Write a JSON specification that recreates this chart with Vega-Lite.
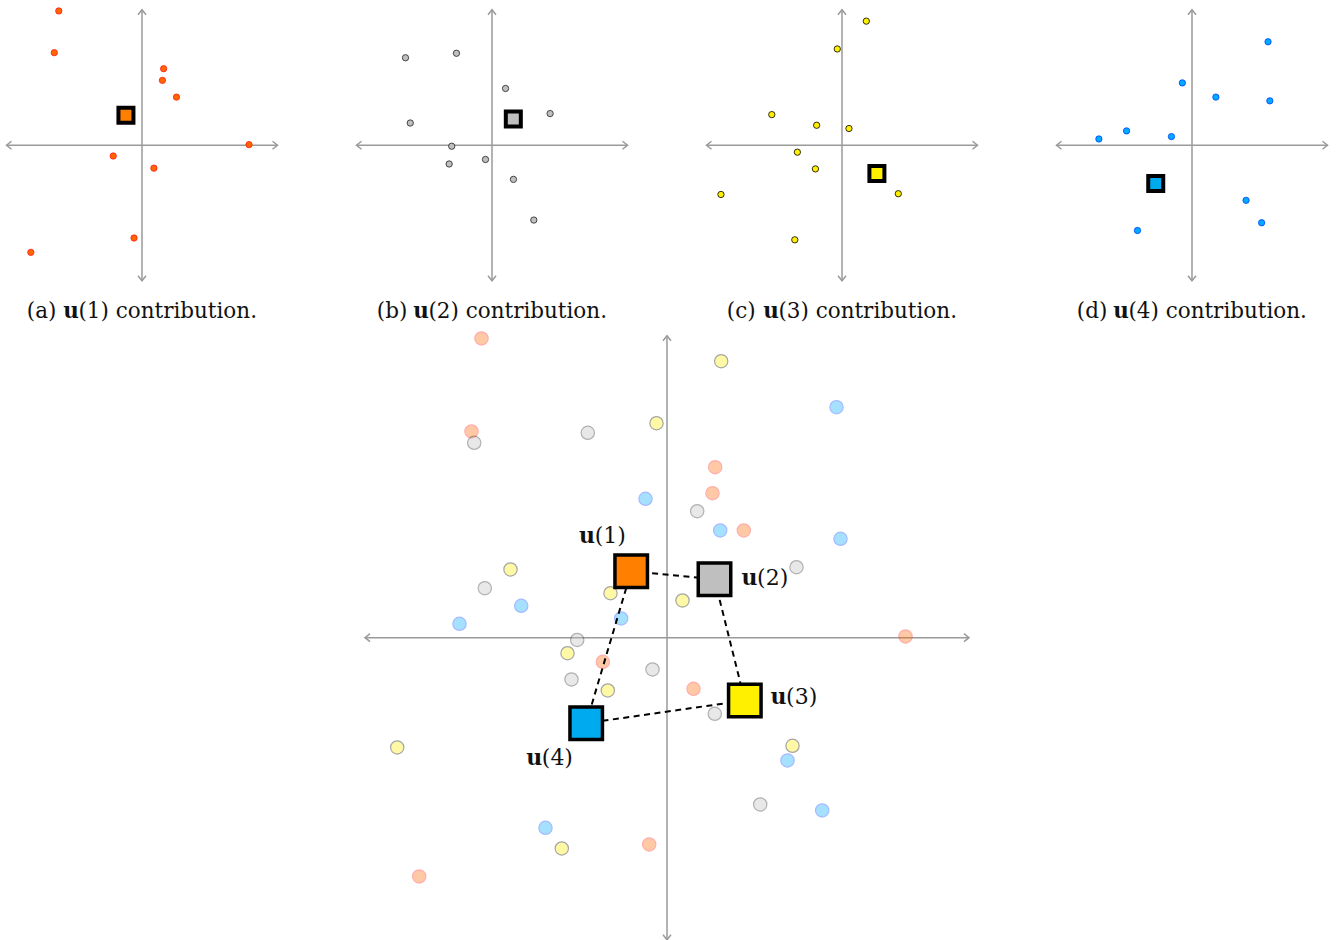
{
"$schema":"https://vega.github.io/schema/vega-lite/v6.json",
"autosize":{"type":"pad"},
"padding":{"left":3.5,"top":5.7,"right":0,"bottom":0},
"background":"white",
"config":{"view":{"stroke":null}},
"datasets":{
"axes":[{"x":-302,"x2":302,"y":0,"y2":0},{"x":0,"x2":0,"y":-302,"y2":302}],
"arrows":[{"x":302,"y":0,"d":"r"},{"x":-302,"y":0,"d":"l"},{"x":0,"y":302,"d":"u"},{"x":0,"y":-302,"d":"d"}],
"pts":[
{"g":"1","x":-185.5,"y":299.2},{"g":"1","x":-195.5,"y":206.2},{"g":"1","x":48.2,"y":170.5},{"g":"1","x":45.5,"y":144.5},{"g":"1","x":76.8,"y":107.2},{"g":"1","x":238.5,"y":1.2},{"g":"1","x":-64.2,"y":-24.1},{"g":"1","x":26.5,"y":-51.1},{"g":"1","x":-17.8,"y":-206.8},{"g":"1","x":-247.8,"y":-238.8},
{"g":"2","x":-192.8,"y":194.9},{"g":"2","x":-79.2,"y":204.9},{"g":"2","x":30.2,"y":126.5},{"g":"2","x":-182.2,"y":49.5},{"g":"2","x":129.5,"y":70.5},{"g":"2","x":-89.8,"y":-2.3},{"g":"2","x":-14.5,"y":-31.8},{"g":"2","x":-95.5,"y":-41.8},{"g":"2","x":47.8,"y":-76.1},{"g":"2","x":93.2,"y":-166.8},
{"g":"3","x":-10.5,"y":214.5},{"g":"3","x":54.2,"y":276.5},{"g":"3","x":-156.5,"y":68.2},{"g":"3","x":-56.5,"y":44.5},{"g":"3","x":15.5,"y":37.2},{"g":"3","x":-99.5,"y":-15.5},{"g":"3","x":-59.2,"y":-52.8},{"g":"3","x":-269.8,"y":-109.8},{"g":"3","x":-105.2,"y":-210.8},{"g":"3","x":125.5,"y":-108.1},
{"g":"4","x":-21.5,"y":138.9},{"g":"4","x":169.5,"y":230.5},{"g":"4","x":53.2,"y":107.2},{"g":"4","x":173.5,"y":98.9},{"g":"4","x":-145.8,"y":31.9},{"g":"4","x":-207.5,"y":13.9},{"g":"4","x":-45.8,"y":19.2},{"g":"4","x":-121.5,"y":-190.1},{"g":"4","x":120.5,"y":-122.8},{"g":"4","x":155.2,"y":-172.8}
],
"sq":[{"g":"1","x":-35.8,"y":66.5,"o":1},{"g":"2","x":47.5,"y":58.5,"o":2},{"g":"3","x":77.8,"y":-62.8,"o":3},{"g":"4","x":-80.8,"y":-85.5,"o":4}],
"cap":[
{"g":"1","part":"p","t":"(a)","x":-256.7,"y":-385.5},{"g":"1","part":"u","t":"u","x":-175.6,"y":-385.5},{"g":"1","part":"r","t":"(1) contribution.","x":-141.7,"y":-385.5},
{"g":"2","part":"p","t":"(b)","x":-256.7,"y":-385.5},{"g":"2","part":"u","t":"u","x":-175.6,"y":-385.5},{"g":"2","part":"r","t":"(2) contribution.","x":-141.7,"y":-385.5},
{"g":"3","part":"p","t":"(c)","x":-256.7,"y":-385.5},{"g":"3","part":"u","t":"u","x":-175.6,"y":-385.5},{"g":"3","part":"r","t":"(3) contribution.","x":-141.7,"y":-385.5},
{"g":"4","part":"p","t":"(d)","x":-256.7,"y":-385.5},{"g":"4","part":"u","t":"u","x":-175.6,"y":-385.5},{"g":"4","part":"r","t":"(4) contribution.","x":-141.7,"y":-385.5}
],
"lab":[
{"part":"u","t":"u","x":-87.9,"y":94.2},{"part":"r","t":"(1)","x":-72.3,"y":94.2},
{"part":"u","t":"u","x":74.5,"y":52.2},{"part":"r","t":"(2)","x":90.1,"y":52.2},
{"part":"u","t":"u","x":103.5,"y":-66.1},{"part":"r","t":"(3)","x":119.1,"y":-66.1},
{"part":"u","t":"u","x":-140.8,"y":-127.8},{"part":"r","t":"(4)","x":-125.2,"y":-127.8}
]
},
"spacing":-7,
"center":true,
"vconcat":[
{"hconcat":[
{"width":271,"height":326,
"layer":[
{"data":{"name":"axes"},"mark":{"type":"rule","color":"#9a9a9a","strokeWidth":1.5},"encoding":{"x":{"field":"x","type":"quantitative","scale":{"domain":[-302,302],"nice":false,"zero":false},"axis":null},"x2":{"field":"x2"},"y":{"field":"y","type":"quantitative","scale":{"domain":[-424.5,302],"nice":false,"zero":false},"axis":null},"y2":{"field":"y2"}}},
{"data":{"name":"arrows"},"mark":{"type":"point","filled":false,"color":"#9a9a9a","strokeWidth":1.5,"size":100,"opacity":1},"encoding":{"x":{"field":"x","type":"quantitative"},"y":{"field":"y","type":"quantitative"},"shape":{"field":"d","type":"nominal","scale":{"domain":["r","l","u","d"],"range":["M-1,-0.8L0,0L-1,0.8","M1,-0.8L0,0L1,0.8","M-0.8,1L0,0L0.8,1","M-0.8,-1L0,0L0.8,-1"]},"legend":null}}},
{"data":{"name":"pts"},"transform":[{"filter":"datum.g == '1'"}],"mark":{"type":"point","shape":"circle","filled":true,"size":40,"strokeWidth":0.8,"opacity":1},"encoding":{"x":{"field":"x","type":"quantitative"},"y":{"field":"y","type":"quantitative"},"fill":{"field":"g","type":"nominal","scale":{"domain":["1","2","3","4"],"range":["#FF6600","#BFBFBF","#FFEE00","#00AAFF"]},"legend":null},"stroke":{"field":"g","type":"nominal","scale":{"domain":["1","2","3","4"],"range":["#FF1A1A","#222222","#000000","#0040FF"]},"legend":null}}},
{"data":{"name":"sq"},"transform":[{"filter":"datum.g == '1'"}],"mark":{"type":"square","size":225,"stroke":"#000000","strokeWidth":4,"opacity":1},"encoding":{"x":{"field":"x","type":"quantitative"},"y":{"field":"y","type":"quantitative"},"fill":{"field":"g","type":"nominal","scale":{"domain":["1","2","3","4"],"range":["#FF8000","#BFBFBF","#FFF000","#00AAEE"]},"legend":null}}},
{"data":{"name":"cap"},"transform":[{"filter":"datum.g == '1' && datum.part != 'u'"}],"mark":{"type":"text","align":"left","baseline":"alphabetic","font":"DejaVu Serif","fontSize":21.5,"color":"#111111"},"encoding":{"x":{"field":"x","type":"quantitative"},"y":{"field":"y","type":"quantitative"},"text":{"field":"t"}}},
{"data":{"name":"cap"},"transform":[{"filter":"datum.g == '1' && datum.part == 'u'"}],"mark":{"type":"text","align":"left","baseline":"alphabetic","font":"DejaVu Serif","fontSize":21.5,"fontWeight":"bold","color":"#111111"},"encoding":{"x":{"field":"x","type":"quantitative"},"y":{"field":"y","type":"quantitative"},"text":{"field":"t"}}}
],
"resolve":{"scale":{"fill":"independent","stroke":"independent"}}},
{"width":271,"height":326,
"layer":[
{"data":{"name":"axes"},"mark":{"type":"rule","color":"#9a9a9a","strokeWidth":1.5},"encoding":{"x":{"field":"x","type":"quantitative","scale":{"domain":[-302,302],"nice":false,"zero":false},"axis":null},"x2":{"field":"x2"},"y":{"field":"y","type":"quantitative","scale":{"domain":[-424.5,302],"nice":false,"zero":false},"axis":null},"y2":{"field":"y2"}}},
{"data":{"name":"arrows"},"mark":{"type":"point","filled":false,"color":"#9a9a9a","strokeWidth":1.5,"size":100,"opacity":1},"encoding":{"x":{"field":"x","type":"quantitative"},"y":{"field":"y","type":"quantitative"},"shape":{"field":"d","type":"nominal","scale":{"domain":["r","l","u","d"],"range":["M-1,-0.8L0,0L-1,0.8","M1,-0.8L0,0L1,0.8","M-0.8,1L0,0L0.8,1","M-0.8,-1L0,0L0.8,-1"]},"legend":null}}},
{"data":{"name":"pts"},"transform":[{"filter":"datum.g == '2'"}],"mark":{"type":"point","shape":"circle","filled":true,"size":40,"strokeWidth":0.8,"opacity":1},"encoding":{"x":{"field":"x","type":"quantitative"},"y":{"field":"y","type":"quantitative"},"fill":{"field":"g","type":"nominal","scale":{"domain":["1","2","3","4"],"range":["#FF6600","#BFBFBF","#FFEE00","#00AAFF"]},"legend":null},"stroke":{"field":"g","type":"nominal","scale":{"domain":["1","2","3","4"],"range":["#FF1A1A","#222222","#000000","#0040FF"]},"legend":null}}},
{"data":{"name":"sq"},"transform":[{"filter":"datum.g == '2'"}],"mark":{"type":"square","size":225,"stroke":"#000000","strokeWidth":4,"opacity":1},"encoding":{"x":{"field":"x","type":"quantitative"},"y":{"field":"y","type":"quantitative"},"fill":{"field":"g","type":"nominal","scale":{"domain":["1","2","3","4"],"range":["#FF8000","#BFBFBF","#FFF000","#00AAEE"]},"legend":null}}},
{"data":{"name":"cap"},"transform":[{"filter":"datum.g == '2' && datum.part != 'u'"}],"mark":{"type":"text","align":"left","baseline":"alphabetic","font":"DejaVu Serif","fontSize":21.5,"color":"#111111"},"encoding":{"x":{"field":"x","type":"quantitative"},"y":{"field":"y","type":"quantitative"},"text":{"field":"t"}}},
{"data":{"name":"cap"},"transform":[{"filter":"datum.g == '2' && datum.part == 'u'"}],"mark":{"type":"text","align":"left","baseline":"alphabetic","font":"DejaVu Serif","fontSize":21.5,"fontWeight":"bold","color":"#111111"},"encoding":{"x":{"field":"x","type":"quantitative"},"y":{"field":"y","type":"quantitative"},"text":{"field":"t"}}}
],
"resolve":{"scale":{"fill":"independent","stroke":"independent"}}},
{"width":271,"height":326,
"layer":[
{"data":{"name":"axes"},"mark":{"type":"rule","color":"#9a9a9a","strokeWidth":1.5},"encoding":{"x":{"field":"x","type":"quantitative","scale":{"domain":[-302,302],"nice":false,"zero":false},"axis":null},"x2":{"field":"x2"},"y":{"field":"y","type":"quantitative","scale":{"domain":[-424.5,302],"nice":false,"zero":false},"axis":null},"y2":{"field":"y2"}}},
{"data":{"name":"arrows"},"mark":{"type":"point","filled":false,"color":"#9a9a9a","strokeWidth":1.5,"size":100,"opacity":1},"encoding":{"x":{"field":"x","type":"quantitative"},"y":{"field":"y","type":"quantitative"},"shape":{"field":"d","type":"nominal","scale":{"domain":["r","l","u","d"],"range":["M-1,-0.8L0,0L-1,0.8","M1,-0.8L0,0L1,0.8","M-0.8,1L0,0L0.8,1","M-0.8,-1L0,0L0.8,-1"]},"legend":null}}},
{"data":{"name":"pts"},"transform":[{"filter":"datum.g == '3'"}],"mark":{"type":"point","shape":"circle","filled":true,"size":40,"strokeWidth":0.8,"opacity":1},"encoding":{"x":{"field":"x","type":"quantitative"},"y":{"field":"y","type":"quantitative"},"fill":{"field":"g","type":"nominal","scale":{"domain":["1","2","3","4"],"range":["#FF6600","#BFBFBF","#FFEE00","#00AAFF"]},"legend":null},"stroke":{"field":"g","type":"nominal","scale":{"domain":["1","2","3","4"],"range":["#FF1A1A","#222222","#000000","#0040FF"]},"legend":null}}},
{"data":{"name":"sq"},"transform":[{"filter":"datum.g == '3'"}],"mark":{"type":"square","size":225,"stroke":"#000000","strokeWidth":4,"opacity":1},"encoding":{"x":{"field":"x","type":"quantitative"},"y":{"field":"y","type":"quantitative"},"fill":{"field":"g","type":"nominal","scale":{"domain":["1","2","3","4"],"range":["#FF8000","#BFBFBF","#FFF000","#00AAEE"]},"legend":null}}},
{"data":{"name":"cap"},"transform":[{"filter":"datum.g == '3' && datum.part != 'u'"}],"mark":{"type":"text","align":"left","baseline":"alphabetic","font":"DejaVu Serif","fontSize":21.5,"color":"#111111"},"encoding":{"x":{"field":"x","type":"quantitative"},"y":{"field":"y","type":"quantitative"},"text":{"field":"t"}}},
{"data":{"name":"cap"},"transform":[{"filter":"datum.g == '3' && datum.part == 'u'"}],"mark":{"type":"text","align":"left","baseline":"alphabetic","font":"DejaVu Serif","fontSize":21.5,"fontWeight":"bold","color":"#111111"},"encoding":{"x":{"field":"x","type":"quantitative"},"y":{"field":"y","type":"quantitative"},"text":{"field":"t"}}}
],
"resolve":{"scale":{"fill":"independent","stroke":"independent"}}},
{"width":271,"height":326,
"layer":[
{"data":{"name":"axes"},"mark":{"type":"rule","color":"#9a9a9a","strokeWidth":1.5},"encoding":{"x":{"field":"x","type":"quantitative","scale":{"domain":[-302,302],"nice":false,"zero":false},"axis":null},"x2":{"field":"x2"},"y":{"field":"y","type":"quantitative","scale":{"domain":[-424.5,302],"nice":false,"zero":false},"axis":null},"y2":{"field":"y2"}}},
{"data":{"name":"arrows"},"mark":{"type":"point","filled":false,"color":"#9a9a9a","strokeWidth":1.5,"size":100,"opacity":1},"encoding":{"x":{"field":"x","type":"quantitative"},"y":{"field":"y","type":"quantitative"},"shape":{"field":"d","type":"nominal","scale":{"domain":["r","l","u","d"],"range":["M-1,-0.8L0,0L-1,0.8","M1,-0.8L0,0L1,0.8","M-0.8,1L0,0L0.8,1","M-0.8,-1L0,0L0.8,-1"]},"legend":null}}},
{"data":{"name":"pts"},"transform":[{"filter":"datum.g == '4'"}],"mark":{"type":"point","shape":"circle","filled":true,"size":40,"strokeWidth":0.8,"opacity":1},"encoding":{"x":{"field":"x","type":"quantitative"},"y":{"field":"y","type":"quantitative"},"fill":{"field":"g","type":"nominal","scale":{"domain":["1","2","3","4"],"range":["#FF6600","#BFBFBF","#FFEE00","#00AAFF"]},"legend":null},"stroke":{"field":"g","type":"nominal","scale":{"domain":["1","2","3","4"],"range":["#FF1A1A","#222222","#000000","#0040FF"]},"legend":null}}},
{"data":{"name":"sq"},"transform":[{"filter":"datum.g == '4'"}],"mark":{"type":"square","size":225,"stroke":"#000000","strokeWidth":4,"opacity":1},"encoding":{"x":{"field":"x","type":"quantitative"},"y":{"field":"y","type":"quantitative"},"fill":{"field":"g","type":"nominal","scale":{"domain":["1","2","3","4"],"range":["#FF8000","#BFBFBF","#FFF000","#00AAEE"]},"legend":null}}},
{"data":{"name":"cap"},"transform":[{"filter":"datum.g == '4' && datum.part != 'u'"}],"mark":{"type":"text","align":"left","baseline":"alphabetic","font":"DejaVu Serif","fontSize":21.5,"color":"#111111"},"encoding":{"x":{"field":"x","type":"quantitative"},"y":{"field":"y","type":"quantitative"},"text":{"field":"t"}}},
{"data":{"name":"cap"},"transform":[{"filter":"datum.g == '4' && datum.part == 'u'"}],"mark":{"type":"text","align":"left","baseline":"alphabetic","font":"DejaVu Serif","fontSize":21.5,"fontWeight":"bold","color":"#111111"},"encoding":{"x":{"field":"x","type":"quantitative"},"y":{"field":"y","type":"quantitative"},"text":{"field":"t"}}}
],
"resolve":{"scale":{"fill":"independent","stroke":"independent"}}}
],"spacing":79,"bounds":"flush"},
{"width":604,"height":604,
"layer":[
{"data":{"name":"axes"},"mark":{"type":"rule","color":"#9a9a9a","strokeWidth":1.5},"encoding":{"x":{"field":"x","type":"quantitative","scale":{"domain":[-302,302],"nice":false,"zero":false},"axis":null},"x2":{"field":"x2"},"y":{"field":"y","type":"quantitative","scale":{"domain":[-302,302],"nice":false,"zero":false},"axis":null},"y2":{"field":"y2"}}},
{"data":{"name":"arrows"},"mark":{"type":"point","filled":false,"color":"#9a9a9a","strokeWidth":1.5,"size":100,"opacity":1},"encoding":{"x":{"field":"x","type":"quantitative"},"y":{"field":"y","type":"quantitative"},"shape":{"field":"d","type":"nominal","scale":{"domain":["r","l","u","d"],"range":["M-1,-0.8L0,0L-1,0.8","M1,-0.8L0,0L1,0.8","M-0.8,1L0,0L0.8,1","M-0.8,-1L0,0L0.8,-1"]},"legend":null}}},
{"data":{"name":"pts"},"mark":{"type":"point","shape":"circle","filled":true,"size":177,"strokeWidth":1.2,"opacity":0.35},"encoding":{"x":{"field":"x","type":"quantitative"},"y":{"field":"y","type":"quantitative"},"fill":{"field":"g","type":"nominal","scale":{"domain":["1","2","3","4"],"range":["#FF6600","#BFBFBF","#FFEE00","#00AAFF"]},"legend":null},"stroke":{"field":"g","type":"nominal","scale":{"domain":["1","2","3","4"],"range":["#FF1A1A","#222222","#000000","#0040FF"]},"legend":null}}},
{"data":{"name":"sq"},"mark":{"type":"line","interpolate":"linear-closed","color":"#000000","strokeWidth":2,"strokeDash":[6,4.5]},"encoding":{"x":{"field":"x","type":"quantitative"},"y":{"field":"y","type":"quantitative"},"order":{"field":"o","type":"quantitative"}}},
{"data":{"name":"sq"},"mark":{"type":"square","size":1056,"stroke":"#000000","strokeWidth":3.5,"opacity":1},"encoding":{"x":{"field":"x","type":"quantitative"},"y":{"field":"y","type":"quantitative"},"fill":{"field":"g","type":"nominal","scale":{"domain":["1","2","3","4"],"range":["#FF8000","#BFBFBF","#FFF000","#00AAEE"]},"legend":null}}},
{"data":{"name":"lab"},"transform":[{"filter":"datum.part != 'u'"}],"mark":{"type":"text","align":"left","baseline":"alphabetic","font":"DejaVu Serif","fontSize":22,"color":"#111111"},"encoding":{"x":{"field":"x","type":"quantitative"},"y":{"field":"y","type":"quantitative"},"text":{"field":"t"}}},
{"data":{"name":"lab"},"transform":[{"filter":"datum.part == 'u'"}],"mark":{"type":"text","align":"left","baseline":"alphabetic","font":"DejaVu Serif","fontSize":22,"fontWeight":"bold","color":"#111111"},"encoding":{"x":{"field":"x","type":"quantitative"},"y":{"field":"y","type":"quantitative"},"text":{"field":"t"}}}
],
"resolve":{"scale":{"fill":"independent","stroke":"independent"}}}
]
}
